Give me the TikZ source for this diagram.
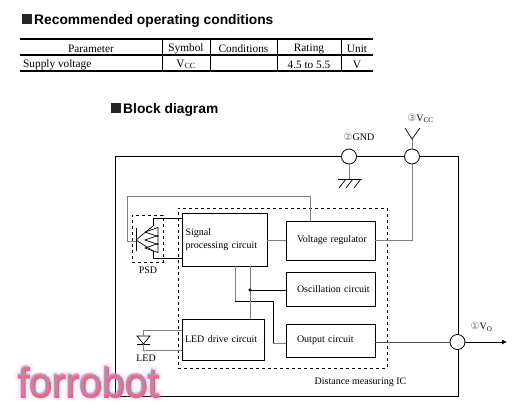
\documentclass[tikz,border=0pt]{standalone}
\usepackage{fontspec}
\setmainfont{Liberation Serif}
\newfontfamily\headfont{Liberation Sans}
\newfontfamily\numfont{DejaVu Sans}
\newfontfamily\glowfont[FakeBold=18]{Liberation Sans}
\newfontfamily\halofont[FakeBold=8]{Liberation Sans}
\newfontfamily\edgefont[FakeBold=3]{Liberation Sans}
\usepackage{xcolor}
\usepackage{tikz}
\usetikzlibrary{arrows.meta, positioning, calc}

\definecolor{wiregray}{gray}{0.5}
\definecolor{glowpink}{RGB}{255,150,240}
\definecolor{markred}{RGB}{250,95,125}
\definecolor{markblue}{RGB}{140,165,190}

\newcommand{\pinnum}[1]{{\numfont\color{black!55}\fontsize{10}{10}\selectfont #1}}

\begin{document}
\begin{tikzpicture}[
  x=1pt, y=-1pt,
  box/.style={draw, line width=0.9pt, inner sep=0pt, outer sep=0pt, align=left,
    text width=#1, font=\fontsize{10}{12.5}\selectfont},
  dashbox/.style={draw, dashed, line width=0.7pt, inner sep=0pt, outer sep=0pt},
  pin/.style={circle, draw, fill=white, line width=0.8pt, minimum size=15pt, inner sep=0pt, outer sep=0pt},
  label/.style={font=\fontsize{10}{12}\selectfont, inner sep=0pt},
  cell/.style={font=\fontsize{11.3}{13}\selectfont, inner sep=0pt},
  head/.style={font=\headfont\bfseries\fontsize{13.8}{16}\selectfont, inner sep=0pt, anchor=base west},
  logotext/.style={inner sep=0pt},
  wire/.style={line width=0.9pt},
  graywire/.style={line width=1pt, draw=wiregray},
  arrow/.style={-{Latex[length=5pt,width=5pt]}, line width=0.7pt}
]
\useasboundingbox (0,0) rectangle (523,416);

% headings
\fill[black!85] (22,14) rectangle (32,24);
\node[head] (headcond) at (34,24) {Recommended operating conditions};
\fill[black!85] (111,103) rectangle (121,113);
\node[head] (headblock) at (123,113) {Block diagram};

% table
\draw[line width=1.4pt] (20,39) -- (373,39) (20,55) -- (373,55) (20,71) -- (373,71);
\foreach \x in {162,210,277,341}
  \draw[line width=0.6pt] (\x,39) -- (\x,71);
\node[cell] (parameter) at (91,48.5) {Parameter};
\node[cell] (symbol) at (186,48.5) {Symbol};
\node[cell] (conditions) at (243.5,48.5) {Conditions};
\node[cell] (rating) at (309,48.5) {Rating};
\node[cell] (unit) at (357,48.5) {Unit};
\node[cell, anchor=west] (supply) at (23,64.5) {Supply voltage};
\node[cell] (vcc) at (186,64.5) {V\textsubscript{CC}};
\node[cell] (range) at (309,64.5) {4.5 to 5.5};
\node[cell] (volt) at (357,64.5) {V};

% outer package and IC outline
\draw[line width=0.9pt] (115,156) rectangle (458,396);
\node[dashbox, minimum width=209pt, minimum height=160pt] (ic) at (282.5,288) {};
\node[dashbox, minimum width=31pt, minimum height=47pt] (psdbox) at (147.5,238.5) {};

% blocks
\node[box=85pt, minimum height=53pt] (signal) at (224.5,239.5) {\hspace*{3.5pt}Signal\\\hspace*{3.5pt}processing circuit};
\node[box=89pt, minimum height=39pt] (regulator) at (330.5,240.5) {\hspace*{11pt}Voltage regulator};
\node[box=89pt, minimum height=34pt] (osc) at (330.5,289) {\hspace*{11pt}Oscillation circuit};
\node[box=89pt, minimum height=33pt] (output) at (330.5,340.5) {\hspace*{11pt}Output circuit};
\node[box=82pt, minimum height=41pt] (leddrive) at (223,339.5) {\hspace*{3pt}LED drive circuit};

% pins
\node[pin] (gnd) at (349,156.5) {};
\node[pin] (vccpin) at (412,156.5) {};
\node[pin] (vo) at (457.5,342) {};
\node[label] (gndlabel) at (359,137) {\pinnum{②}GND};
\node[label] (vcclabel) at (420.5,118.5) {\pinnum{③}V\textsubscript{CC}};
\node[label] (volabel) at (481.5,327) {\pinnum{①}V\textsubscript{O}};
\node[label] (psdlabel) at (148,270) {PSD};
\node[label] (ledlabel) at (146,358) {LED};
\node[label] (iclabel) at (360.5,382) {Distance measuring IC};

% ground
\coordinate (gndbase) at (349,179);
\draw[graywire] (gnd) -- (gndbase);
\draw[wire] (338,179) -- (362,179);
\foreach \x in {346,353,361}
  \draw[line width=0.7pt] (\x,179) -- (\x-7,188);

% antenna
\coordinate (vccfork) at (412,139);
\draw[graywire] (vccpin) -- (vccfork);
\draw[line width=0.7pt] (405,128) -- (vccfork) -- (420,128);

% wires
\coordinate (voend) at (507,342);
\draw[graywire] (vccpin.south) |- (regulator.east);
\draw[wire, draw=black!70] (output.east |- vo) -- (vo);
\draw[arrow] (vo) -- (voend);
\draw[graywire] (signal.east |- regulator) -- (regulator);
\draw[graywire] ($(signal.south west)+(53,0)$) -- ++(0,35) coordinate (bend1);
\draw[wire] (bend1) -- ++(38,0) coordinate (bend2);
\draw[wire] (bend2) -- ++(0,42);
\draw[graywire] ($(bend2)+(0,42)$) -- (output.west |- 0,343);
\draw[graywire] ($(signal.south west)+(68,0)$) -- ($(leddrive.north west)+(68,0)$);
\draw[wire] (250,290) -- (osc.west |- 0,290);
\fill (250,290) circle (1.6pt);

% PSD feedback
\draw[graywire] (regulator.north -| 310,0) |- (127,196) |- (136,241);

% PSD symbol
\draw[line width=0.8pt] (136,228) -- (136,251);
\draw[line width=0.7pt] (136,240) -- (153,226) (136,240) -- (153,251);
\foreach \y in {232,240,248}
  \draw[line width=0.7pt] (145,\y) -- (158,\y-4.5) -- (158,\y+4.5) -- cycle;
\draw[wire] (153,226) -- (153,218) -- (signal.west |- 0,218);
\draw[wire] (153,251) -- (153,258) -- (signal.west |- 0,258);

% LED symbol
\draw[line width=0.7pt] (137,336) -- (150,336) -- (143.5,344) -- cycle;
\draw[wire] (137,344) -- (150,344);
\draw[graywire] (143.5,336) -- (143.5,330) -- (leddrive.west |- 0,330);
\draw[graywire] (143.5,344) -- (143.5,350) -- (leddrive.west |- 0,350);

% watermark
\node[logotext, text=glowpink, opacity=0.15, font=\glowfont\fontsize{41}{41}\selectfont] (glow) at (88.5,382) {forrobot};
\node[logotext, text=glowpink, opacity=0.25, font=\halofont\fontsize{41}{41}\selectfont] (halo) at (88.5,382) {forrobot};
\node[logotext, text=markred, font=\edgefont\fontsize{41}{41}\selectfont] (edge) at (88.5,382.5) {forrobot};
\node[logotext, text=markblue, opacity=0.65, font=\headfont\fontsize{41}{41}\selectfont] (markname) at (88,381) {forrobot};
\end{tikzpicture}
\end{document}
